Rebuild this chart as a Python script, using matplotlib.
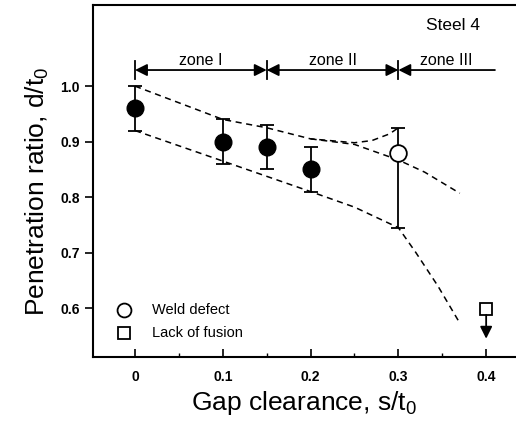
import matplotlib
matplotlib.use("Agg")
import matplotlib.pyplot as plt

plt.rcParams['font.family'] = ['Liberation Sans', 'DejaVu Sans']

# measured points (filled = sound welds)
gap = [0.0, 0.1, 0.15, 0.2]
ratio = [0.96, 0.90, 0.89, 0.85]
err_lo = [0.92, 0.86, 0.85, 0.81]
err_hi = [1.00, 0.94, 0.93, 0.89]

# weld defect point
defect_x = 0.3
defect_y = 0.88
defect_lo = 0.745
defect_hi = 0.925

# lack of fusion
lof_x = 0.4
lof_y = 0.598
lof_arrow_end = 0.545

# dashed band guides
upper_x = [0.0, 0.05, 0.1, 0.15, 0.2, 0.25, 0.27, 0.29, 0.3]
upper_y = [1.0, 0.97, 0.94, 0.925, 0.905, 0.898, 0.902, 0.914, 0.925]
upper2_x = [0.2, 0.25, 0.3, 0.33, 0.37]
upper2_y = [0.905, 0.895, 0.867, 0.845, 0.807]
lower_x = [0.0, 0.1, 0.2, 0.25, 0.3, 0.32, 0.345, 0.37]
lower_y = [0.92, 0.865, 0.81, 0.782, 0.745, 0.70, 0.64, 0.573]

zone_bounds = [0.0, 0.15, 0.3, 0.41]
zone_names = ["zone I", "zone II", "zone III"]

fig = plt.figure(figsize=(5.16, 4.24), dpi=100)
ax = fig.add_axes([0.180, 0.158, 0.820, 0.830])

ax.plot(upper_x, upper_y, 'k--', lw=1.1, dashes=(4, 3))
ax.plot(upper2_x, upper2_y, 'k--', lw=1.1, dashes=(4, 3))
ax.plot(lower_x, lower_y, 'k--', lw=1.1, dashes=(4, 3))

yerr = [[r - l for r, l in zip(ratio, err_lo)], [h - r for r, h in zip(ratio, err_hi)]]
ax.errorbar(gap, ratio, yerr=yerr, fmt='o', color='k', ms=12, capsize=5,
            elinewidth=1.3, capthick=1.3, zorder=3)
ax.errorbar([defect_x], [defect_y], yerr=[[defect_y - defect_lo], [defect_hi - defect_y]],
            fmt='o', color='k', mfc='white', mew=1.3, ms=12, capsize=5,
            elinewidth=1.3, capthick=1.3, zorder=3)
ax.plot([lof_x], [lof_y], 's', color='k', mfc='white', mew=1.3, ms=8.5, zorder=3)
ax.annotate('', xy=(lof_x, lof_arrow_end), xytext=(lof_x, lof_y - 0.01),
            arrowprops=dict(arrowstyle='-|>', color='k', lw=1.3, mutation_scale=18,
                            shrinkA=0, shrinkB=0))

# zone arrows
ya = 1.029
arrow_kw = dict(color='k', lw=1.3, mutation_scale=18, shrinkA=0, shrinkB=0)
for xb in zone_bounds[:3]:
    ax.plot([xb, xb], [ya - 0.016, ya + 0.016], color='k', lw=1.3)
ax.annotate('', xy=(zone_bounds[0], ya), xytext=(zone_bounds[1], ya),
            arrowprops=dict(arrowstyle='<|-|>', **arrow_kw))
ax.annotate('', xy=(zone_bounds[1], ya), xytext=(zone_bounds[2], ya),
            arrowprops=dict(arrowstyle='<|-|>', **arrow_kw))
ax.annotate('', xy=(zone_bounds[2], ya), xytext=(zone_bounds[3], ya),
            arrowprops=dict(arrowstyle='-|>', **arrow_kw))
for i, name in enumerate(zone_names):
    xc = (zone_bounds[i] + zone_bounds[i + 1]) / 2
    ax.text(xc, ya + 0.003, name, ha='center', va='bottom', fontsize=11.5)

ax.text(0.362, 1.110, "Steel 4", ha='center', va='center', fontsize=12.5)

# legend drawn by hand
ax.plot([-0.012], [0.597], 'o', color='k', mfc='white', mew=1.3, ms=10, clip_on=False)
ax.text(0.019, 0.597, "Weld defect", va='center', fontsize=10.5)
ax.plot([-0.012], [0.555], 's', color='k', mfc='white', mew=1.3, ms=9, clip_on=False)
ax.text(0.019, 0.555, "Lack of fusion", va='center', fontsize=10.5)

ax.set_xlim(-0.048, 0.434)
ax.set_ylim(0.512, 1.146)
ax.set_xticks([0, 0.1, 0.2, 0.3, 0.4])
ax.set_xticklabels(["0", "0.1", "0.2", "0.3", "0.4"])
ax.set_xticks([0.05, 0.15, 0.25, 0.35], minor=True)
ax.set_yticks([0.6, 0.7, 0.8, 0.9, 1.0])
ax.tick_params(axis='x', which='both', direction='in', labelsize=10, pad=9)
ax.tick_params(axis='x', which='major', length=6, width=1.2)
ax.tick_params(axis='x', which='minor', length=3, width=1.0)
ax.tick_params(axis='y', direction='out', length=6, width=1.2, labelsize=10)
for lab in ax.get_xticklabels() + ax.get_yticklabels():
    lab.set_fontweight('bold')

ax.spines['right'].set_visible(False)
for s in ['left', 'bottom', 'top']:
    ax.spines[s].set_linewidth(1.5)

ax.set_xlabel(r"Gap clearance, s/t$_\mathregular{0}$", fontsize=19, labelpad=4)
ax.set_ylabel(r"Penetration ratio, d/t$_\mathregular{0}$", fontsize=19)
ax.yaxis.set_label_coords(-0.10, 0.47)

fig.savefig("out.png", dpi=100)
